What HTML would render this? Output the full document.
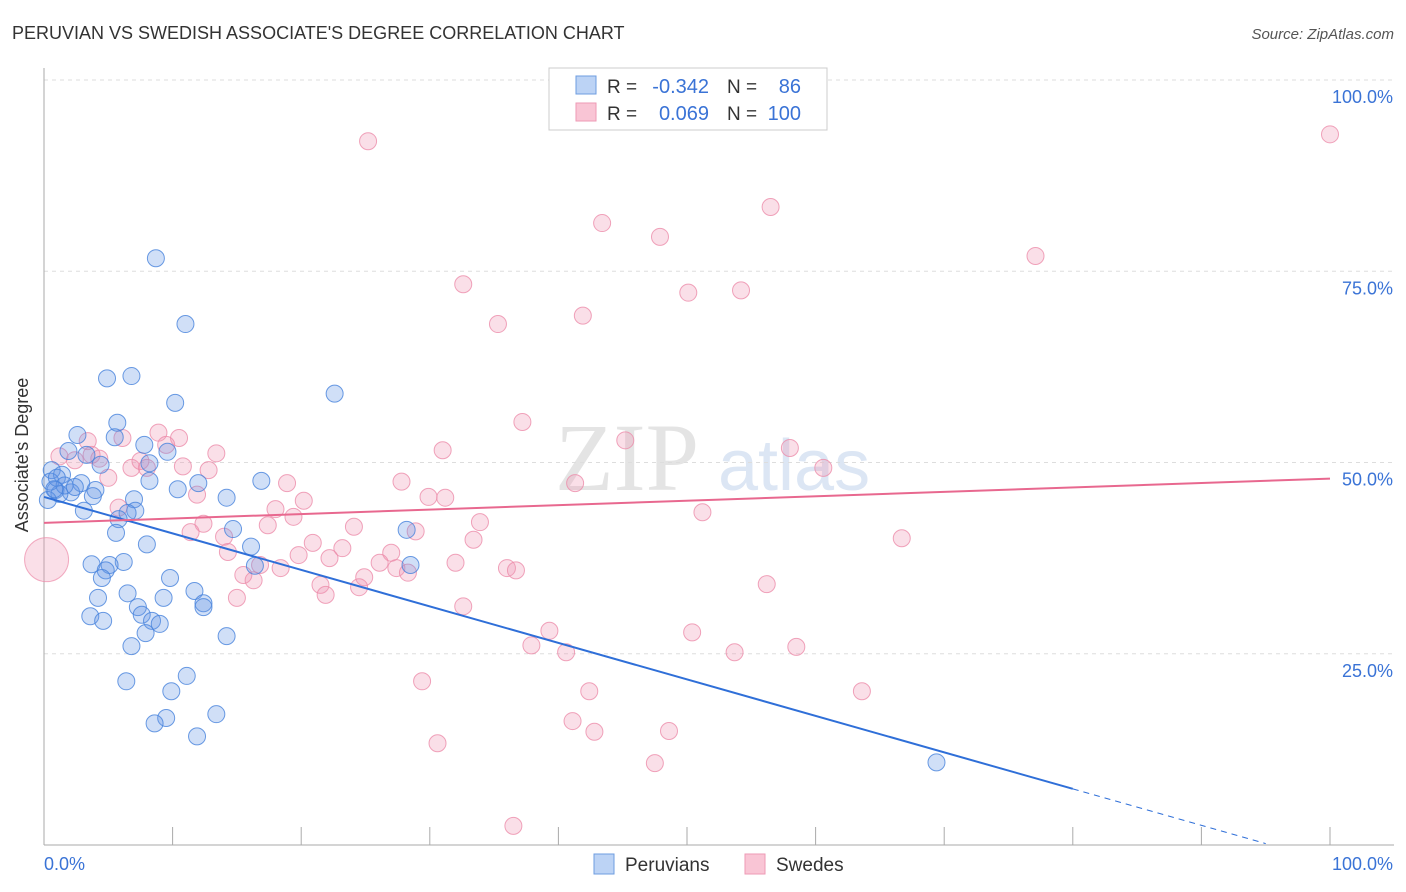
<!DOCTYPE html>
<html><head><meta charset="utf-8"><style>
body{margin:0;background:#fff;font-family:"Liberation Sans",sans-serif}
svg{display:block}
</style></head><body>
<svg id="chart" width="1406" height="892">
<text x="12" y="39" font-size="18" fill="#333">PERUVIAN VS SWEDISH ASSOCIATE'S DEGREE CORRELATION CHART</text>
<text x="1394" y="39" font-size="15" fill="#555" font-style="italic" text-anchor="end">Source: ZipAtlas.com</text>
<g><text x="555" y="490" font-size="96" fill="#e4e4e4" font-family="Liberation Serif,serif">ZIP</text><text x="718" y="490" font-size="72" fill="#dce6f4">atlas</text></g>
<g id="grid"></g><g id="axes"></g><g id="pts"></g><g id="trend"></g>
<text x="28" y="455" font-size="18" fill="#333" text-anchor="middle" transform="rotate(-90 28 455)">Associate's Degree</text>
<g>
<rect x="549" y="68" width="278" height="62" fill="#fff" stroke="#ccc"/>
<rect x="576" y="76" width="20" height="18" fill="#bcd3f5" stroke="#6e9de0"/>
<rect x="576" y="103" width="20" height="18" fill="#f9c5d5" stroke="#ee9ab5"/>
<text x="607" y="93" font-size="19" fill="#333">R =</text>
<text x="709" y="93" font-size="20" fill="#3a73d6" text-anchor="end">-0.342</text>
<text x="727" y="93" font-size="19" fill="#333">N =</text>
<text x="801" y="93" font-size="20" fill="#3a73d6" text-anchor="end">86</text>
<text x="607" y="120" font-size="19" fill="#333">R =</text>
<text x="709" y="120" font-size="20" fill="#3a73d6" text-anchor="end">0.069</text>
<text x="727" y="120" font-size="19" fill="#333">N =</text>
<text x="801" y="120" font-size="20" fill="#3a73d6" text-anchor="end">100</text>
</g>
<g>
<rect x="594" y="854" width="20" height="20" fill="#bcd3f5" stroke="#6e9de0"/><text x="625" y="871" font-size="19" fill="#333">Peruvians</text>
<rect x="745" y="854" width="20" height="20" fill="#f9c5d5" stroke="#ee9ab5"/><text x="776" y="871" font-size="19" fill="#333">Swedes</text>
</g>
</svg>
<script>
const blueX=[8.7,11.0,4.9,6.8,22.6,10.2,5.7,5.5,2.6,7.8,9.6,1.9,3.3,8.2,4.4,0.6,1.4,8.2,16.9,12.0,2.9,4.0,10.4,0.9,2.1,3.8,14.2,7.0,1.2,3.1,7.1,6.5,5.8,14.7,28.2,5.6,8.0,16.1,3.7,6.2,5.1,28.5,4.8,4.5,9.8,16.4,6.5,11.7,4.2,9.3,12.4,12.4,7.3,7.6,3.6,8.4,4.6,9.0,7.9,14.2,6.8,11.1,6.4,9.9,13.4,9.5,8.6,11.9,69.4,0.3,0.5,1.0,1.6,2.4,0.8];
const blueY=[76.7,68.1,61.0,61.3,59.0,57.8,55.2,53.3,53.6,52.3,51.4,51.5,51.0,49.9,49.7,49.0,48.4,47.6,47.6,47.3,47.3,46.4,46.5,46.4,46.1,45.6,45.4,45.2,45.9,43.7,43.7,43.4,42.6,41.3,41.2,40.8,39.3,39.0,36.7,37.0,36.6,36.6,35.9,34.9,34.9,36.5,32.9,33.2,32.3,32.3,31.6,31.1,31.1,30.1,29.9,29.3,29.3,28.9,27.7,27.3,26.0,22.1,21.4,20.1,17.1,16.6,15.9,14.2,10.8,45.1,47.5,48.0,47.0,46.8,46.5];
const pinkX=[25.2,100,56.5,43.4,47.9,77.1,32.6,54.2,50.1,41.9,35.3,37.2,45.2,31.0,58.0,60.6,41.3,27.8,18.9,29.9,31.2,20.2,18.0,19.4,51.2,33.9,24.1,28.9,66.7,33.4,20.9,23.2,19.8,22.2,27.0,32.0,26.1,27.4,28.3,36.0,36.7,24.9,21.5,24.5,21.9,32.6,56.2,39.3,50.4,37.9,40.6,53.7,58.5,29.4,42.4,63.6,41.1,42.8,48.6,30.6,47.5,36.5,1.2,3.4,4.3,5.0,6.1,6.8,7.5,8.9,10.5,9.5,10.8,13.4,12.8,11.9,12.4,11.4,14.0,14.3,15.5,15.0,16.3,16.8,18.4,17.4,5.8,2.4,3.7,8.0];
const pinkY=[92.0,92.9,83.4,81.3,79.5,77.0,73.3,72.5,72.2,69.2,68.1,55.3,52.9,51.6,51.9,49.3,47.3,47.5,47.3,45.5,45.4,45.0,43.9,42.9,43.5,42.2,41.6,41.0,40.1,39.9,39.5,38.8,37.9,37.5,38.2,36.9,36.9,36.2,35.6,36.2,35.9,35.0,34.0,33.7,32.7,31.2,34.1,28.0,27.8,26.1,25.2,25.2,25.9,21.4,20.1,20.1,16.2,14.8,14.9,13.3,10.7,2.5,50.8,52.8,50.5,48.0,53.2,49.3,50.2,53.9,53.2,52.3,49.5,51.2,49.0,45.8,42.0,40.9,40.3,38.3,35.3,32.3,34.6,36.6,36.2,41.8,44.1,50.3,51.0,49.3];
const yTicks=[100,75,50,25];
const yTickLabels=["100.0%","75.0%","50.0%","25.0%"];
const blueTrend=[45.5,-2.2];
const pinkTrend=[42.1,47.9];
const NS="http://www.w3.org/2000/svg";
const sx=v=>44+v*12.86, sy=v=>845-v*7.65;
function mk(t,a,p){const e=document.createElementNS(NS,t);for(const k in a)e.setAttribute(k,a[k]);document.getElementById(p).appendChild(e);return e;}
yTicks.forEach((t,i)=>{
 const g=mk('line',{x1:44,x2:1394,y1:sy(t),y2:sy(t),stroke:'#ddd','stroke-dasharray':'4,4'},'grid');
 
 
 const l=mk('text',{x:1393,y:sy(t)+23,'font-size':18,fill:'#3a73d6','text-anchor':'end'},'grid');l.textContent=yTickLabels[i];
 
 
});
const ax=mk('line',{x1:44,x2:44,y1:68,y2:845,stroke:'#aaa'},'axes');


const bx=mk('line',{x1:44,x2:1394,y1:845,y2:845,stroke:'#aaa'},'axes');


for(let i=0;i<=10;i++){const t=mk('line',{x1:sx(i*10),x2:sx(i*10),y1:827,y2:845,stroke:'#aaa'},'axes');
 
 }
const x0=mk('text',{x:44,y:870,'font-size':18,fill:'#3a73d6'},'axes');x0.textContent='0.0%';


const x1=mk('text',{x:1393,y:870,'font-size':18,fill:'#3a73d6','text-anchor':'end'},'axes');x1.textContent='100.0%';


const big=mk('circle',{cx:sx(0.2),cy:sy(37.3),r:22,fill:'rgba(240,150,180,0.3)',stroke:'rgba(236,140,170,0.7)'},'pts');


pinkX.forEach((x,i)=>{const c=mk('circle',{cx:sx(x),cy:sy(pinkY[i]),r:8.5,fill:'rgba(240,150,180,0.3)',stroke:'rgba(236,140,170,0.8)'},'pts');
 
 });
blueX.forEach((x,i)=>{const c=mk('circle',{cx:sx(x),cy:sy(blueY[i]),r:8.5,fill:'rgba(100,150,230,0.3)',stroke:'rgba(70,130,220,0.8)'},'pts');
 
 });
const bf=v=>blueTrend[0]+(blueTrend[1]-blueTrend[0])*v/100;
const bt=mk('line',{x1:sx(0),y1:sy(bf(0)),x2:sx(80),y2:sy(bf(80)),stroke:'#2f6fd8','stroke-width':2},'trend');


const bd=mk('line',{x1:sx(80),y1:sy(bf(80)),x2:sx(95),y2:sy(bf(95)),stroke:'#2f6fd8','stroke-width':1,'stroke-dasharray':'6,5'},'trend');


const pt=mk('line',{x1:sx(0),y1:sy(pinkTrend[0]),x2:sx(100),y2:sy(pinkTrend[1]),stroke:'#e8688f','stroke-width':2},'trend');


</script>
</body></html>
